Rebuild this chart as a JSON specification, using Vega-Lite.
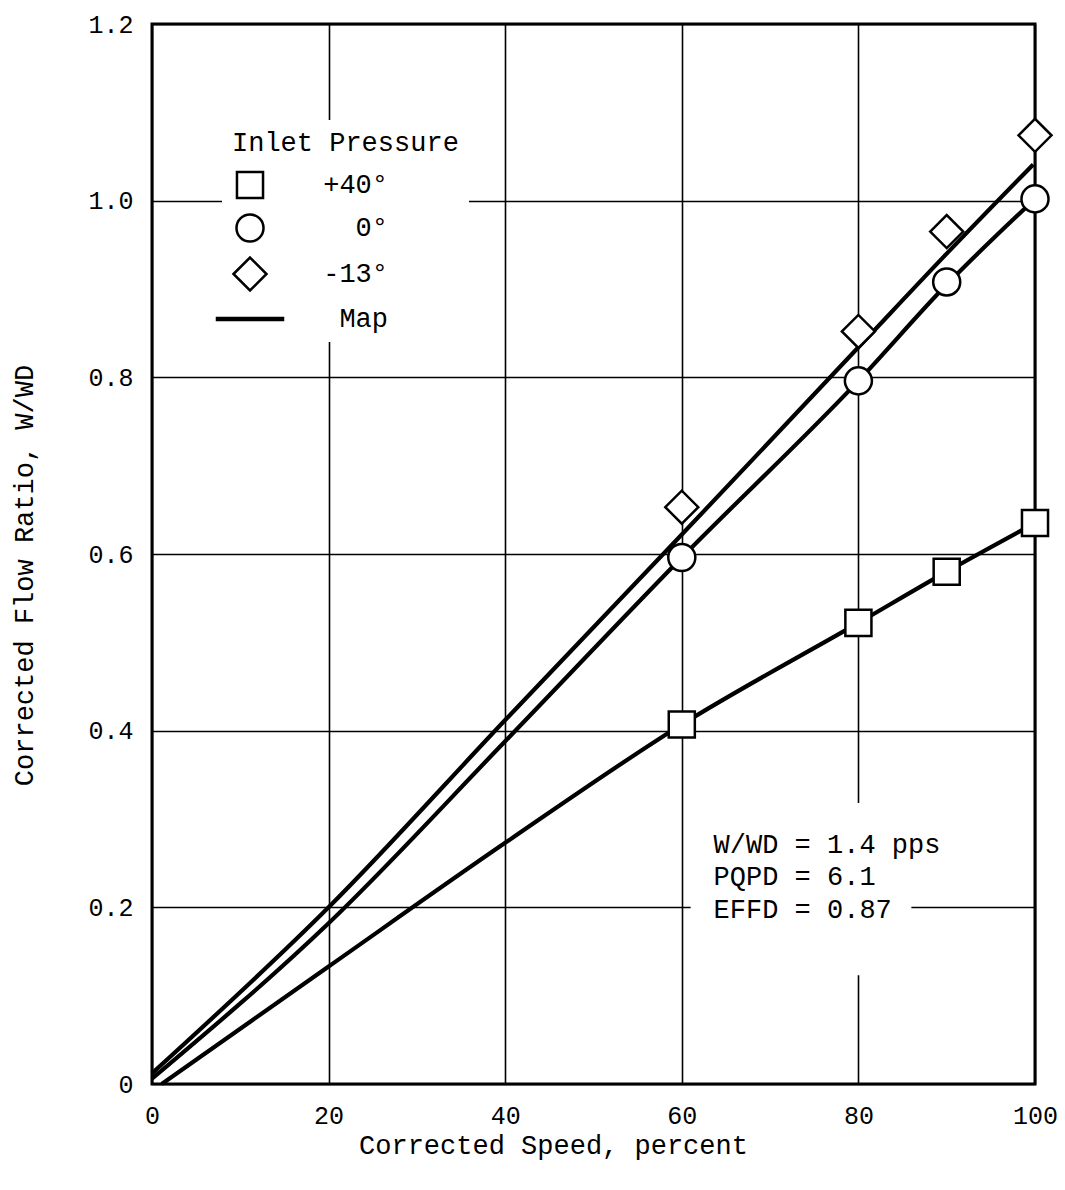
{
  "$schema": "https://vega.github.io/schema/vega-lite/v6.json",
  "autosize": {"type": "none"},
  "width": 883,
  "height": 1060,
  "padding": {"left": 152, "top": 24, "right": 30, "bottom": 106},
  "background": "white",
  "config": {
    "view": {"stroke": "black", "strokeWidth": 3},
    "font": "Liberation Mono",
    "axis": {
      "domain": false,
      "ticks": false,
      "tickSize": 0,
      "grid": true,
      "gridColor": "black",
      "gridWidth": 1.6,
      "gridOpacity": 1,
      "labelFlush": false,
      "labelFont": "Liberation Mono",
      "labelFontSize": 25,
      "labelColor": "black",
      "titleFont": "Liberation Mono",
      "titleFontSize": 27,
      "titleFontWeight": "normal",
      "titleColor": "black"
    },
    "legend": {
      "orient": "none",
      "legendX": 70,
      "legendY": 96,
      "padding": 10,
      "fillColor": "white",
      "titleFont": "Liberation Mono",
      "titleFontSize": 27,
      "titleFontWeight": "normal",
      "titleColor": "black",
      "titleLimit": 500,
      "titlePadding": 10,
      "labelFont": "Liberation Mono",
      "labelFontSize": 27,
      "labelColor": "black",
      "labelAlign": "right",
      "labelOffset": 120,
      "rowPadding": 5,
      "symbolSize": 1089,
      "symbolStrokeWidth": 2.5
    }
  },
  "datasets": {
    "points": [
      {"speed": 60, "flow": 0.407, "series": "+40°"},
      {"speed": 80, "flow": 0.522, "series": "+40°"},
      {"speed": 90, "flow": 0.580, "series": "+40°"},
      {"speed": 100, "flow": 0.635, "series": "+40°"},
      {"speed": 60, "flow": 0.596, "series": "0°"},
      {"speed": 80, "flow": 0.796, "series": "0°"},
      {"speed": 90, "flow": 0.908, "series": "0°"},
      {"speed": 100, "flow": 1.002, "series": "0°"},
      {"speed": 60, "flow": 0.653, "series": "-13°"},
      {"speed": 80, "flow": 0.852, "series": "-13°"},
      {"speed": 90, "flow": 0.965, "series": "-13°"},
      {"speed": 100, "flow": 1.074, "series": "-13°"}
    ],
    "lines": [
      {"speed": 0, "flow": 0.012, "curve": "upper"},
      {"speed": 20, "flow": 0.2, "curve": "upper"},
      {"speed": 40, "flow": 0.412, "curve": "upper"},
      {"speed": 60, "flow": 0.622, "curve": "upper"},
      {"speed": 80, "flow": 0.834, "curve": "upper"},
      {"speed": 90, "flow": 0.94, "curve": "upper"},
      {"speed": 99.8, "flow": 1.041, "curve": "upper"},
      {"speed": 0, "flow": 0.006, "curve": "middle"},
      {"speed": 20, "flow": 0.182, "curve": "middle"},
      {"speed": 40, "flow": 0.388, "curve": "middle"},
      {"speed": 60, "flow": 0.596, "curve": "middle"},
      {"speed": 80, "flow": 0.796, "curve": "middle"},
      {"speed": 90, "flow": 0.905, "curve": "middle"},
      {"speed": 100, "flow": 1.002, "curve": "middle"},
      {"speed": 1.1, "flow": 0, "curve": "lower"},
      {"speed": 20, "flow": 0.133, "curve": "lower"},
      {"speed": 40, "flow": 0.273, "curve": "lower"},
      {"speed": 60, "flow": 0.407, "curve": "lower"},
      {"speed": 80, "flow": 0.522, "curve": "lower"},
      {"speed": 90, "flow": 0.580, "curve": "lower"},
      {"speed": 100, "flow": 0.635, "curve": "lower"}
    ],
    "boxes": [
      {"x": 61, "x2": 86, "y": 0.123, "y2": 0.318}
    ],
    "notes": [
      {"speed": 63.6, "flow": 0.271, "text": "W/WD = 1.4 pps"},
      {"speed": 63.6, "flow": 0.234, "text": "PQPD = 6.1"},
      {"speed": 63.6, "flow": 0.197, "text": "EFFD = 0.87"}
    ]
  },
  "layer": [
    {
      "data": {"name": "boxes"},
      "mark": {"type": "rect", "fill": "white", "stroke": null},
      "encoding": {
        "x": {"field": "x", "type": "quantitative", "scale": {"domain": [0, 100], "nice": false},
          "axis": {"values": [0, 20, 40, 60, 80, 100], "labelPadding": 19, "title": "Corrected Speed, percent",
            "titleX": 401, "titleY": 61, "titleAlign": "center", "titleBaseline": "middle", "titleAnchor": null}},
        "x2": {"field": "x2"},
        "y": {"field": "y", "type": "quantitative", "scale": {"domain": [0, 1.2], "nice": false},
          "axis": {"values": [0, 0.2, 0.4, 0.6, 0.8, 1.0, 1.2], "labelPadding": 19,
            "labelExpr": "datum.value == 0 ? '0' : format(datum.value, '.1f')",
            "title": "Corrected Flow Ratio, W/WD", "titleX": -128, "titleY": 551, "titleAngle": -90,
            "titleAlign": "center", "titleBaseline": "middle", "titleAnchor": null}},
        "y2": {"field": "y2"}
      }
    },
    {
      "data": {"name": "lines"},
      "mark": {"type": "line", "color": "black", "strokeWidth": 4.2, "interpolate": "monotone"},
      "encoding": {
        "x": {"field": "speed", "type": "quantitative"},
        "y": {"field": "flow", "type": "quantitative"},
        "detail": {"field": "curve", "type": "nominal"}
      }
    },
    {
      "data": {"name": "points"},
      "mark": {"type": "point", "filled": true, "fill": "white", "stroke": "black", "strokeWidth": 2.5, "size": 1089, "opacity": 1},
      "encoding": {
        "x": {"field": "speed", "type": "quantitative"},
        "y": {"field": "flow", "type": "quantitative"},
        "shape": {
          "field": "series", "type": "nominal",
          "scale": {
            "domain": ["+40°", "0°", "-13°", "Map"],
            "range": [
              "M-0.79,-0.79H0.79V0.79H-0.79Z",
              "M-0.82,0A0.82,0.82,0,1,0,0.82,0A0.82,0.82,0,1,0,-0.82,0Z",
              "M-1,0L0,-1L1,0L0,1Z",
              "M-2,-0.06H2V0.06H-2Z"
            ]
          },
          "legend": {
            "title": "Inlet Pressure"
          }
        }
      }
    },
    {
      "data": {"name": "notes"},
      "mark": {"type": "text", "align": "left", "baseline": "middle", "font": "Liberation Mono", "fontSize": 27, "color": "black"},
      "encoding": {
        "x": {"field": "speed", "type": "quantitative"},
        "y": {"field": "flow", "type": "quantitative"},
        "text": {"field": "text"}
      }
    }
  ]
}
